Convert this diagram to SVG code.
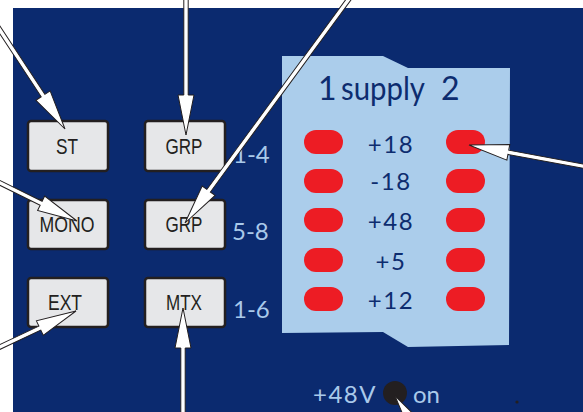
<svg xmlns="http://www.w3.org/2000/svg" width="583" height="412" viewBox="0 0 583 412">
  <defs>
    <style>
      .btn rect { fill: #e6e7e9; stroke: #231f20; stroke-width: 2.5; }
      .btn text { font-family: "Liberation Sans", Arial, sans-serif; font-size: 22px; fill: #231f20; text-anchor: middle; }
      .range { font-family: Lato, "Open Sans", sans-serif; font-size: 24px; fill: #a9c9ea; }
      .rail { font-family: Lato, "Open Sans", sans-serif; font-size: 24px; fill: #0d2c6f; text-anchor: middle; letter-spacing: 1.5px; }
      .led { fill: #ed1c24; }
      .arrow { fill: #ffffff; stroke: #231f20; stroke-width: 1; stroke-linejoin: miter; }
    </style>
  </defs>

  <!-- blank margin and panel face -->
  <rect x="0" y="0" width="583" height="412" fill="#ffffff"/>
  <rect id="panel" x="13" y="8" width="570" height="404" fill="#0b2a6f"/>

  <!-- bus buttons -->
  <g id="btn-st" class="btn">
    <rect x="28" y="121" width="80" height="50" rx="3"/>
    <text x="67" y="154" textLength="22" lengthAdjust="spacingAndGlyphs">ST</text>
  </g>
  <g id="btn-grp1" class="btn">
    <rect x="145" y="121" width="80" height="50" rx="3"/>
    <text x="184" y="154" textLength="37" lengthAdjust="spacingAndGlyphs">GRP</text>
  </g>
  <g id="btn-mono" class="btn">
    <rect x="28" y="200" width="80" height="49" rx="3"/>
    <text x="67" y="232" textLength="55" lengthAdjust="spacingAndGlyphs">MONO</text>
  </g>
  <g id="btn-grp2" class="btn">
    <rect x="145" y="200" width="80" height="49" rx="3"/>
    <text x="184" y="232" textLength="37" lengthAdjust="spacingAndGlyphs">GRP</text>
  </g>
  <g id="btn-ext" class="btn">
    <rect x="28" y="278" width="80" height="49" rx="3"/>
    <text x="65" y="310" textLength="34" lengthAdjust="spacingAndGlyphs">EXT</text>
  </g>
  <g id="btn-mtx" class="btn">
    <rect x="145" y="278" width="80" height="49" rx="3"/>
    <text x="184" y="310" textLength="36" lengthAdjust="spacingAndGlyphs">MTX</text>
  </g>

  <!-- channel ranges -->
  <g id="ranges">
    <text class="range" x="233" y="163">1-4</text>
    <text class="range" x="232" y="240">5-8</text>
    <text class="range" x="233" y="318">1-6</text>
  </g>

  <!-- supply status window -->
  <g id="supply">
    <polygon points="282,56 383,56 408,68 510,68 509,345 408,347 383,332 282,333" fill="#abcdeb"/>
    <text font-family="Lato, 'Open Sans', sans-serif" font-size="32" fill="#0d2c6f" y="100"><tspan x="318">1</tspan><tspan x="341" textLength="84" lengthAdjust="spacingAndGlyphs">supply</tspan><tspan x="441">2</tspan></text>

    <g id="leds-1">
      <rect class="led" x="304" y="130" width="39" height="24" rx="12"/>
      <rect class="led" x="304" y="169" width="39" height="24" rx="12"/>
      <rect class="led" x="304" y="208" width="39" height="24" rx="12"/>
      <rect class="led" x="304" y="248" width="39" height="24" rx="12"/>
      <rect class="led" x="304" y="287" width="39" height="24" rx="12"/>
    </g>
    <g id="leds-2">
      <rect class="led" x="446" y="130" width="39" height="24" rx="12"/>
      <rect class="led" x="446" y="169" width="39" height="24" rx="12"/>
      <rect class="led" x="446" y="208" width="39" height="24" rx="12"/>
      <rect class="led" x="446" y="248" width="39" height="24" rx="12"/>
      <rect class="led" x="446" y="287" width="39" height="24" rx="12"/>
    </g>

    <text class="rail" x="391" y="153">+18</text>
    <text class="rail" x="391" y="190">-18</text>
    <text class="rail" x="391" y="230">+48</text>
    <text class="rail" x="391" y="270">+5</text>
    <text class="rail" x="391" y="309">+12</text>
  </g>

  <!-- phantom power indicator -->
  <g id="phantom">
    <text class="range" x="313" y="403" letter-spacing="1.5">+48V</text>
    <circle cx="395" cy="393" r="12" fill="#231f20"/>
    <text class="range" x="413" y="403">on</text>
  </g>
  <circle cx="517" cy="402" r="1.6" fill="#231f20"/>

  <!-- callout arrows: tip at origin, tail along +x -->
  <g id="connectors">
    <polygon class="arrow" transform="translate(65,129) rotate(236.7)" points="0,0 40,-8.5 40,-2.2 140,-2.2 140,2.2 40,2.2 40,8.5"/>
    <polygon class="arrow" transform="translate(186,135) rotate(-90)" points="0,0 40,-8 40,-2.2 145,-2.2 145,2.2 40,2.2 40,8"/>
    <polygon class="arrow" transform="translate(185,223) rotate(-53.8)" points="0,0 40,-8 40,-2.2 295,-2.2 295,2.2 40,2.2 40,8"/>
    <polygon class="arrow" transform="translate(77,221) rotate(206.3)" points="0,0 40,-8 40,-2.2 100,-2.2 100,2.2 40,2.2 40,8"/>
    <polygon class="arrow" transform="translate(76,311) rotate(154.7)" points="0,0 40,-8 40,-2.2 100,-2.2 100,2.2 40,2.2 40,8"/>
    <polygon class="arrow" transform="translate(183,308) rotate(90)" points="0,0 40,-8 40,-2.2 120,-2.2 120,2.2 40,2.2 40,8"/>
    <polygon class="arrow" transform="translate(469,145) rotate(10.5)" points="0,0 40,-8 40,-2.2 130,-2.2 130,2.2 40,2.2 40,8"/>
    <polygon class="arrow" transform="translate(395,396) rotate(55.7)" points="0,0 40,-8 40,-2.2 70,-2.2 70,2.2 40,2.2 40,8"/>
  </g>
</svg>
